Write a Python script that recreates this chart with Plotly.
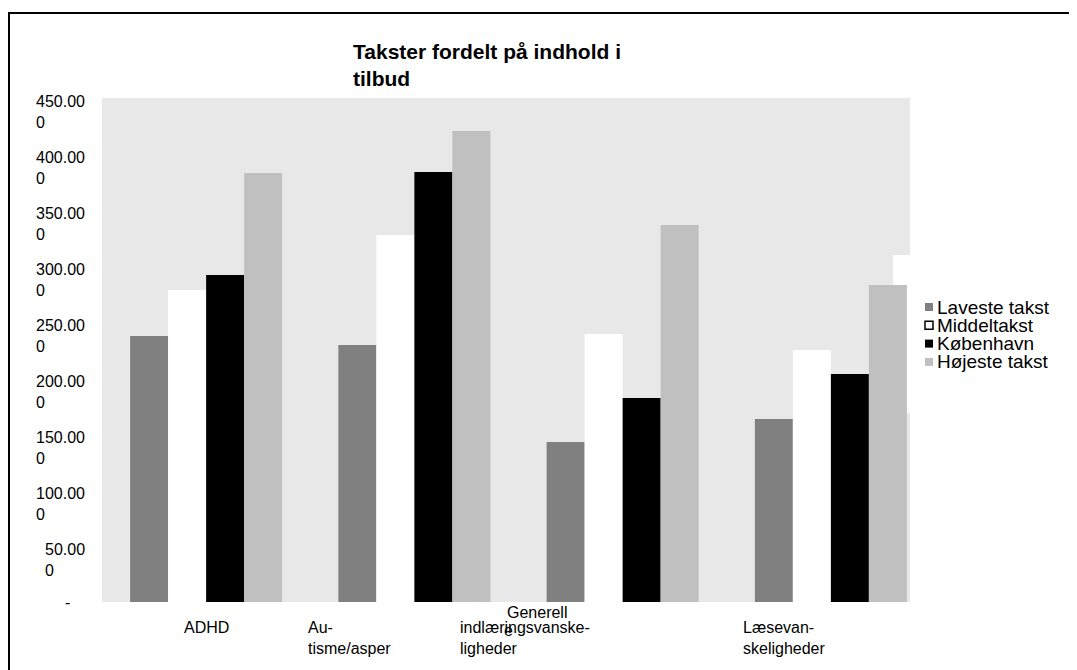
import plotly.graph_objects as go

# ---------------- data ----------------
categories = ["ADHD", "Autisme/asper", "Generell indlæringsvanskeligheder", "Læsevanskeligheder"]
category_labels = ["ADHD", "Au-<br>tisme/asper", "indlæringsvanske-<br>ligheder", "Læsevan-<br>skeligheder"]
series_names = ["Laveste takst", "Middeltakst", "København", "Højeste takst"]
laveste = [237500, 229500, 142900, 163400]
middel = [278600, 327700, 239300, 225000]
kobenhavn = [292000, 383900, 182100, 203600]
hojeste = [383000, 420500, 336600, 283000]
y_ticks = [0, 50000, 100000, 150000, 200000, 250000, 300000, 350000, 400000, 450000]
title_text = "Takster fordelt på indhold i<br>tilbud"

series_values = [laveste, middel, kobenhavn, hojeste]
series_colors = ["#808080", "#FFFFFF", "#000000", "#C0C0C0"]

# ---------------- layout geometry ----------------
OFF = 8  # page body margin
W, H = 1077, 670
# plot area in page pixels
PL, PR, PT, PB = 102, 935, 98, 602
L, R, T, B = PL - OFF, PR - OFF, PT - OFF, PB - OFF
FONT = "Liberation Sans, Arial, sans-serif"


def px_x(px):
    return (px - PL) / (PR - PL)


def px_y(py):
    return (PB - py) / (PB - PT)


fig = go.Figure()
for name, vals, col in zip(series_names, series_values, series_colors):
    fig.add_trace(go.Bar(x=categories, y=vals, name=name, marker_color=col,
                         marker_line_width=0, showlegend=False))

shapes = []
annotations = []

# plot background (grey) and the white legend box overlapping it
shapes.append(dict(type="rect", xref="paper", yref="paper", x0=0, x1=px_x(910), y0=0, y1=1,
                   fillcolor="#E8E8E8", line_width=0, layer="below"))
shapes.append(dict(type="rect", xref="paper", yref="paper", x0=px_x(893), x1=px_x(1060),
                   y0=px_y(413), y1=px_y(255), fillcolor="#FFFFFF", line_width=0, layer="below"))
# outer chart border
shapes.append(dict(type="rect", xref="paper", yref="paper", x0=px_x(9), x1=px_x(1075),
                   y0=px_y(700), y1=px_y(13), line=dict(color="black", width=2),
                   fillcolor="rgba(0,0,0,0)", layer="above"))


def fmt_tick(v):
    if v == 0:
        return "-"
    s = f"{v:,.0f}".replace(",", ".")
    return s[:-1] + "<br>" + s[-1:]


for v in y_ticks:
    annotations.append(dict(x=0, xref="paper", y=v, yref="y", text=fmt_tick(v),
                            xanchor="right", yanchor="top" if v else "middle",
                            xshift=-16 if v else -31, yshift=6 if v else 0,
                            align="left", showarrow=False, borderpad=0,
                            font=dict(family=FONT, size=16, color="black")))

# category labels (Excel-like irregular placement)
label_offsets = [(0, "center"), (-107, "left"), (-164, "left"), (-89, "left")]
for cat, lab, (dx, anc) in zip(categories, category_labels, label_offsets):
    annotations.append(dict(x=cat, xref="x", y=0, yref="paper", text=lab, xanchor=anc,
                            yanchor="top", xshift=dx, yshift=-16, align="left",
                            showarrow=False, borderpad=0,
                            font=dict(family=FONT, size=16, color="black")))
annotations.append(dict(x=categories[2], xref="x", y=0, yref="paper", text="Generell",
                        xanchor="center", yanchor="top", xshift=-86, yshift=-1,
                        showarrow=False, borderpad=0,
                        font=dict(family=FONT, size=16, color="black")))
annotations.append(dict(x=categories[2], xref="x", y=0, yref="paper", text="e",
                        xanchor="center", yanchor="top", xshift=-114, yshift=-19,
                        showarrow=False, borderpad=0,
                        font=dict(family=FONT, size=16, color="black")))

# title
annotations.append(dict(x=px_x(352), xref="paper", y=px_y(39), yref="paper", text="<b>" + title_text + "</b>",
                        xanchor="left", yanchor="top", align="left", showarrow=False, borderpad=0,
                        font=dict(family=FONT, size=21, color="black")))

# custom legend
for i, (name, col) in enumerate(zip(series_names, series_colors)):
    cy = 307 + i * 18.3
    shapes.append(dict(type="rect", xref="paper", yref="paper",
                       x0=px_x(925), x1=px_x(933), y0=px_y(cy + 4), y1=px_y(cy - 4),
                       fillcolor=col,
                       line=dict(color="black", width=1.5) if col == "#FFFFFF" else dict(width=0)))
    annotations.append(dict(x=px_x(936), xref="paper", y=px_y(cy), yref="paper", text=name,
                            xanchor="left", yanchor="middle", showarrow=False, borderpad=0,
                            font=dict(family=FONT, size=19, color="black")))

fig.update_layout(
    width=W, height=H,
    margin=dict(l=L, r=W - R, t=T, b=H - B, pad=0),
    paper_bgcolor="white", plot_bgcolor="rgba(0,0,0,0)",
    barmode="group", bargap=0.27, bargroupgap=0,
    shapes=shapes, annotations=annotations,
    font=dict(family=FONT, size=16, color="black"),
    xaxis=dict(range=[-0.5, 3.5], showticklabels=False, showgrid=False, zeroline=False,
               showline=False, ticks=""),
    yaxis=dict(range=[0, 450000], showticklabels=False, showgrid=False, zeroline=False,
               showline=False, ticks=""),
)

fig.write_html("out.html")
